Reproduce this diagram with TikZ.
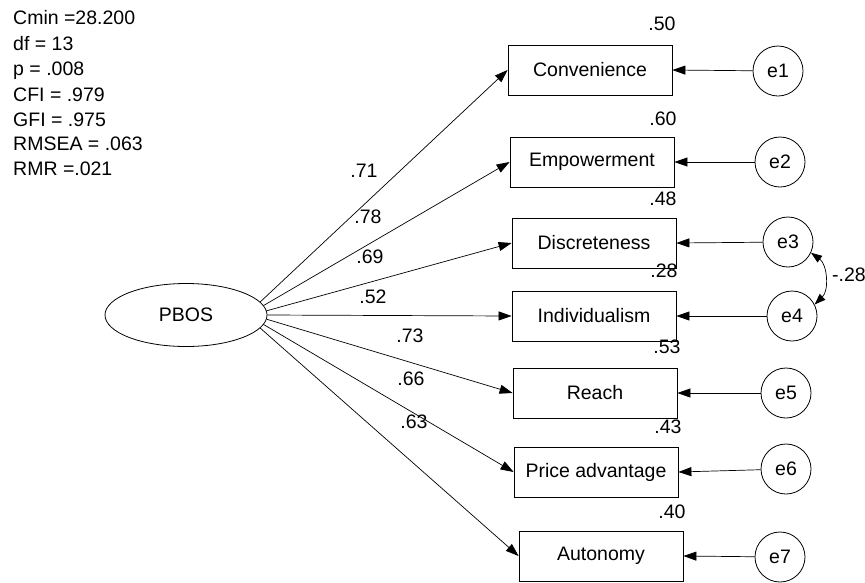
\documentclass[tikz,border=0pt]{standalone}
\usepackage{fontspec}
\setmainfont{Liberation Sans}
\usetikzlibrary{shapes.geometric,arrows.meta}
\begin{document}
\begin{tikzpicture}[x=1pt,y=-1pt,
  every node/.style={font=\fontsize{19.5}{23}\selectfont},
  obsbox/.style={draw, line width=0.8pt, minimum width=164pt, minimum height=50pt, inner sep=0pt},
  errc/.style={draw, circle, line width=0.8pt, minimum size=50pt, inner sep=0pt},
  latent/.style={draw, ellipse, line width=0.8pt, minimum width=162pt, minimum height=63pt, inner sep=0pt},
  lbl/.style={inner sep=0pt},
  fit/.style={inner sep=0pt, anchor=base west},
  path/.style={line width=0.7pt, -{Triangle[length=13pt,width=9pt]}},
  cov/.style={line width=0.7pt, {Triangle[length=11pt,width=8pt]}-{Triangle[length=11pt,width=8pt]}}
]
\useasboundingbox (0,0) rectangle (865,582);

% fit indices
\node[fit] (f1) at (13,24) {Cmin =28.200};
\node[fit] (f2) at (13,50) {df = 13};
\node[fit] (f3) at (13,75) {p = .008};
\node[fit] (f4) at (13,101) {CFI = .979};
\node[fit] (f5) at (13,126) {GFI = .975};
\node[fit] (f6) at (13,150) {RMSEA = .063};
\node[fit] (f7) at (13,175) {RMR =.021};

% latent
\node[latent] (pbos) at (186,315) {PBOS};

% observed
\node[obsbox] (conv) at (590,70) {Convenience};
\node[obsbox] (emp) at (592,162) {Empowerment};
\node[obsbox] (disc) at (594,243) {Discreteness};
\node[obsbox] (ind) at (594,316) {Individualism};
\node[obsbox] (reach) at (595,393) {Reach};
\node[obsbox] (price) at (596,472) {Price advantage};
\node[obsbox] (auto) at (601,556) {Autonomy};

% errors
\node[errc] (e1) at (778,71) {e1};
\node[errc] (e2) at (780,162) {e2};
\node[errc] (e3) at (788,242) {e3};
\node[errc] (e4) at (792,316) {e4};
\node[errc] (e5) at (786,393) {e5};
\node[errc] (e6) at (786,469) {e6};
\node[errc] (e7) at (780,557) {e7};

% paths
\draw[path] (pbos.10) -- (conv.west);
\draw[path] (pbos.7) -- (emp.west);
\draw[path] (pbos.3.5) -- (disc.west);
\draw[path] (pbos.0) -- (ind.west);
\draw[path] (pbos.-3.5) -- (reach.west);
\draw[path] (pbos.-7) -- (price.west);
\draw[path] (pbos.-10) -- (auto.west);
\draw[path] (e1) -- (conv.east);
\draw[path] (e2) -- (emp.east);
\draw[path] (e3) -- (disc.east);
\draw[path] (e4) -- (ind.east);
\draw[path] (e5) -- (reach.east);
\draw[path] (e6) -- (price.east);
\draw[path] (e7) -- (auto.east);

% covariance
\draw[cov] (e3.-25) to[bend left=50] (e4.27);
\node[lbl] (c34) at (849,275) {-.28};

% loadings
\node[lbl] (l1) at (364,171) {.71};
\node[lbl] (l2) at (368,217) {.78};
\node[lbl] (l3) at (370,257) {.69};
\node[lbl] (l4) at (373,297) {.52};
\node[lbl] (l5) at (410,336) {.73};
\node[lbl] (l6) at (411,379) {.66};
\node[lbl] (l7) at (414,422) {.63};

% squared multiple correlations
\node[lbl] (r1) at (662,24) {.50};
\node[lbl] (r2) at (663,119) {.60};
\node[lbl] (r3) at (663,199) {.48};
\node[lbl] (r4) at (664,271) {.28};
\node[lbl] (r5) at (667,347) {.53};
\node[lbl] (r6) at (668,427) {.43};
\node[lbl] (r7) at (672,512) {.40};
\end{tikzpicture}
\end{document}
